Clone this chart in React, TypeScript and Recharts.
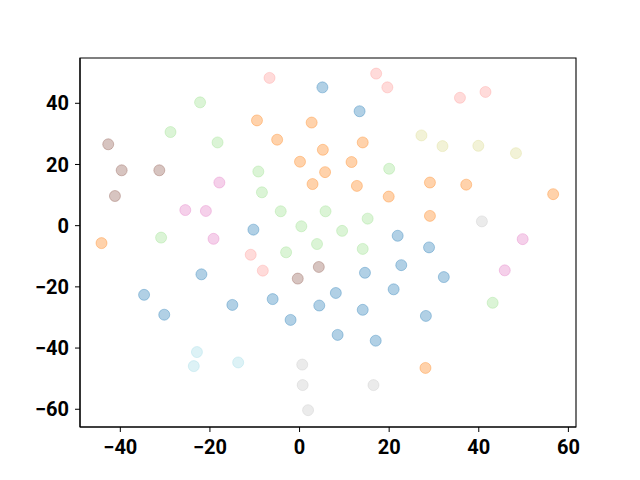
import { ScatterChart, Scatter, XAxis, YAxis, ReferenceArea } from "recharts";

interface Pt { x: number; y: number }

const blue: Pt[] = [
  { x: 5.1, y: 45.2 }, { x: 13.4, y: 37.4 }, { x: -10.3, y: -1.3 }, { x: 21.9, y: -3.3 },
  { x: 28.9, y: -7.1 }, { x: -21.9, y: -15.9 }, { x: -34.7, y: -22.6 }, { x: -30.2, y: -29.1 },
  { x: -15.0, y: -25.9 }, { x: -6.0, y: -24.0 }, { x: -2.0, y: -30.8 }, { x: 4.4, y: -26.1 },
  { x: 14.6, y: -15.4 }, { x: 22.7, y: -12.9 }, { x: 32.2, y: -16.8 }, { x: 8.1, y: -22.0 },
  { x: 21.0, y: -20.8 }, { x: 14.1, y: -27.5 }, { x: 28.2, y: -29.5 }, { x: 8.5, y: -35.7 },
  { x: 17.0, y: -37.6 },
];
const orange: Pt[] = [
  { x: -9.5, y: 34.4 }, { x: 2.7, y: 33.7 }, { x: -5.0, y: 28.1 }, { x: 5.2, y: 24.8 },
  { x: 0.1, y: 20.9 }, { x: 5.7, y: 17.5 }, { x: 2.9, y: 13.6 }, { x: -44.2, y: -5.7 },
  { x: 14.1, y: 27.2 }, { x: 11.6, y: 20.8 }, { x: 12.8, y: 13.0 }, { x: 29.1, y: 14.1 },
  { x: 37.2, y: 13.4 }, { x: 19.9, y: 9.5 }, { x: 56.6, y: 10.3 }, { x: 29.1, y: 3.2 },
  { x: 28.1, y: -46.5 },
];
const green: Pt[] = [
  { x: -22.2, y: 40.3 }, { x: -28.8, y: 30.6 }, { x: -18.3, y: 27.2 }, { x: -9.2, y: 17.7 },
  { x: -8.4, y: 10.9 }, { x: -4.2, y: 4.7 }, { x: 5.8, y: 4.7 }, { x: 0.4, y: -0.2 },
  { x: -30.9, y: -3.9 }, { x: 3.9, y: -6.0 }, { x: -3.0, y: -8.7 }, { x: 20.0, y: 18.6 },
  { x: 15.2, y: 2.3 }, { x: 9.5, y: -1.7 }, { x: 14.1, y: -7.6 }, { x: 43.1, y: -25.2 },
];
const red: Pt[] = [
  { x: -6.7, y: 48.3 }, { x: 17.1, y: 49.7 }, { x: 19.6, y: 45.2 }, { x: 35.8, y: 41.8 },
  { x: 41.5, y: 43.7 }, { x: -10.9, y: -9.5 }, { x: -8.2, y: -14.7 },
];
const pink: Pt[] = [
  { x: -17.9, y: 14.1 }, { x: -25.5, y: 5.1 }, { x: -20.9, y: 4.8 }, { x: -19.2, y: -4.3 },
  { x: 49.8, y: -4.4 }, { x: 45.8, y: -14.6 },
];
const brown: Pt[] = [
  { x: -42.7, y: 26.6 }, { x: -39.7, y: 18.1 }, { x: -31.3, y: 18.1 }, { x: -41.2, y: 9.7 },
  { x: 4.3, y: -13.5 }, { x: -0.4, y: -17.3 },
];
const gray: Pt[] = [
  { x: 40.7, y: 1.4 }, { x: 0.6, y: -45.4 }, { x: 0.7, y: -52.1 }, { x: 1.9, y: -60.3 },
  { x: 16.5, y: -52.1 },
];
const olive: Pt[] = [
  { x: 27.2, y: 29.5 }, { x: 31.9, y: 26.0 }, { x: 39.9, y: 26.1 }, { x: 48.3, y: 23.7 },
];
const cyan: Pt[] = [
  { x: -22.9, y: -41.3 }, { x: -23.6, y: -45.9 }, { x: -13.7, y: -44.7 },
];

const xTicks = [-40, -20, 0, 20, 40, 60];
const yTicks = [-60, -40, -20, 0, 20, 40];
const xDomain: [number, number] = [-49, 61.7];
const yDomain: [number, number] = [-65.8, 54.8];

const groups: { name: string; data: Pt[]; color: string }[] = [
  { name: "blue", data: blue, color: "#1f77b4" },
  { name: "orange", data: orange, color: "#ff7f0e" },
  { name: "green", data: green, color: "#98df8a" },
  { name: "red", data: red, color: "#ff9896" },
  { name: "brown", data: brown, color: "#8c564b" },
  { name: "pink", data: pink, color: "#e377c2" },
  { name: "gray", data: gray, color: "#c7c7c7" },
  { name: "olive", data: olive, color: "#dbdb8d" },
  { name: "cyan", data: cyan, color: "#9edae5" },
];

const fmt = (v: number) => (v < 0 ? `\u2212${Math.abs(v)}` : String(v));
const tickStyle = { fontSize: 20, fill: "#000", fontFamily: "Roboto", fontWeight: 700 };

export default function App() {
  return (
    <div style={{ position: "absolute", left: 0, top: 0, background: "#fff" }}>
      <ScatterChart width={640} height={480} margin={{ top: 58, right: 64, bottom: 0, left: 0 }}>
        <XAxis
          type="number" dataKey="x" domain={xDomain} ticks={xTicks} allowDataOverflow
          tickFormatter={fmt} tick={tickStyle} height={53} tickSize={5} tickMargin={8}
          stroke="#000" axisLine={{ stroke: "#000", strokeWidth: 1.1 }}
        />
        <YAxis
          type="number" dataKey="y" domain={yDomain} ticks={yTicks} allowDataOverflow
          tickFormatter={fmt} tick={tickStyle} width={80} tickSize={5} tickMargin={6}
          stroke="#000" axisLine={{ stroke: "#000", strokeWidth: 1.1 }}
        />
        <ReferenceArea x1={xDomain[0]} x2={xDomain[1]} y1={yDomain[0]} y2={yDomain[1]}
          fill="none" stroke="#000" strokeWidth={1.1} ifOverflow="visible" />
        {groups.map((g) => (
          <Scatter
            key={g.name}
            name={g.name}
            data={g.data}
            isAnimationActive={false}
            shape={(p: any) => (
              <circle cx={p.cx} cy={p.cy} r={5.5} fill={g.color} fillOpacity={0.35}
                stroke={g.color} strokeOpacity={0.35} strokeWidth={1} />
            )}
          />
        ))}
      </ScatterChart>
    </div>
  );
}
